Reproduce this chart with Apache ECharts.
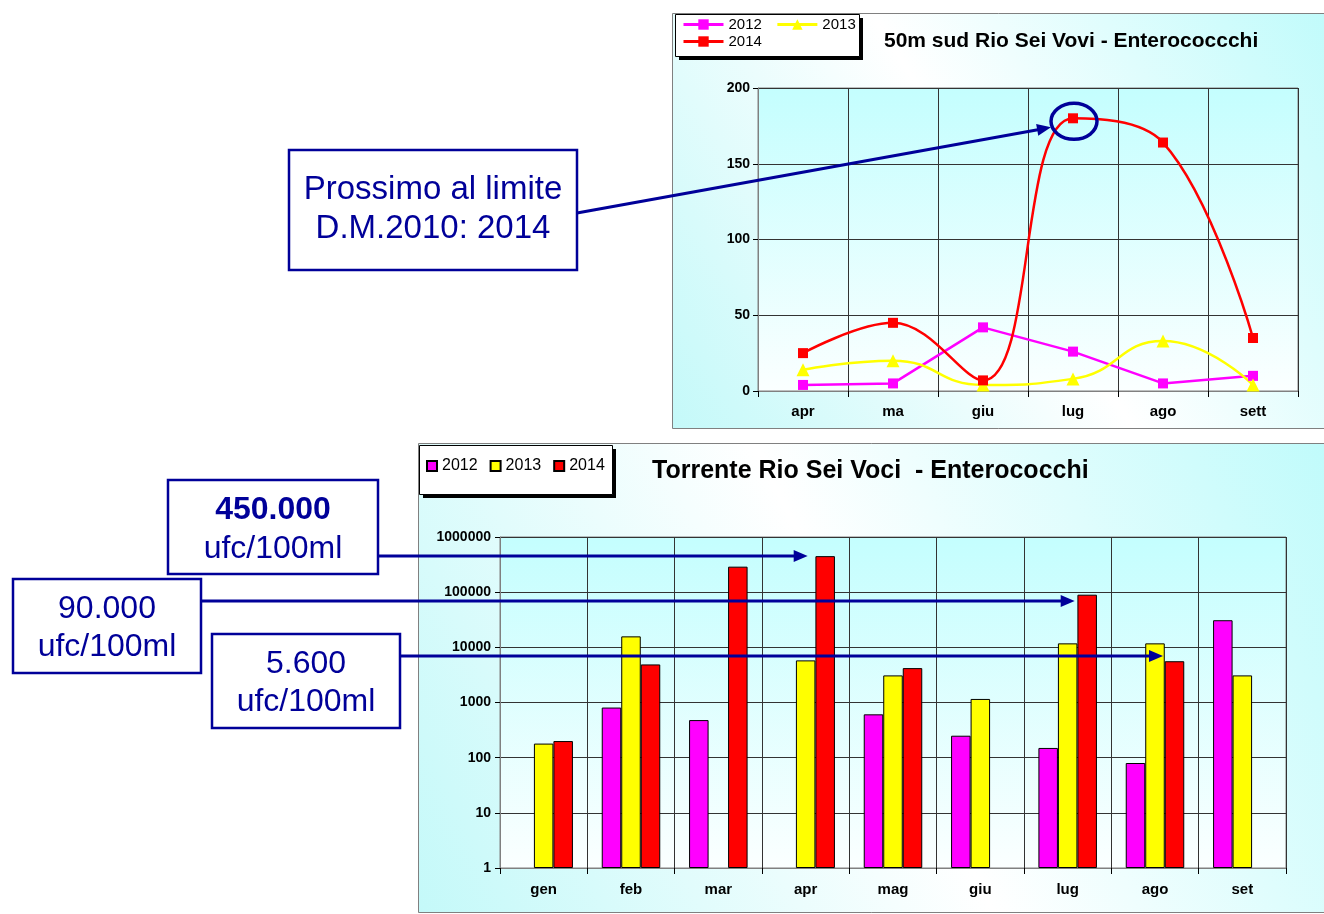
<!DOCTYPE html>
<html>
<head>
<meta charset="utf-8">
<script src="https://cdn.jsdelivr.net/npm/echarts@6/dist/echarts.min.js"></script>
<style>
  html, body { margin: 0; padding: 0; background: #ffffff; }
  #chart { width: 1324px; height: 914px; }
</style>
</head>
<body>
<div id="chart"></div>
<script>
// Enterococchi, 50 m a sud del Rio Sei Voci (ufc/100ml)
const shoreMonths = ['apr', 'ma', 'giu', 'lug', 'ago', 'sett'];
const shore2012 = [4, 5, 42, 26, 5, 10];
const shore2013 = [14, 20, 4, 8, 33, 4];
const shore2014 = [25, 45, 7, 180, 164, 35];
const shoreTicks = [0, 50, 100, 150, 200];

// Enterococchi nel Torrente Rio Sei Voci (ufc/100ml, scala logaritmica)
const streamMonths = ['gen', 'feb', 'mar', 'apr', 'mag', 'giu', 'lug', 'ago', 'set'];
const stream2012 = [null, 810, 480, null, 610, 250, 150, 80, 31000];
const stream2013 = [180, 15800, null, 5800, 3100, 1160, 11800, 11800, 3100];
const stream2014 = [200, 4900, 290000, 450000, 4200, null, 90000, 5600, null];
const streamTicks = [1, 10, 100, 1000, 10000, 100000, 1000000];

const years = ['2012', '2013', '2014'];
const yearColors = ['#ff00ff', '#ffff00', '#ff0000'];

const NARROW = "'Liberation Sans Narrow','Liberation Sans',Arial,sans-serif";
const SANS = "'Liberation Sans',Arial,sans-serif";
const NOTE = '#000099';

const plotFill = {
  type: 'linear', x: 0, y: 0, x2: 0, y2: 1,
  colorStops: [{ offset: 0, color: '#c4fefe' }, { offset: 1, color: '#fbffff' }]
};
const panelFill = {
  type: 'linear', x: 1, y: 0, x2: 0, y2: 1,
  colorStops: [
    { offset: 0, color: '#c0fbfb' },
    { offset: 0.5, color: '#ffffff' },
    { offset: 1, color: '#c4f9f9' }
  ]
};

const axisLabelStyle = { color: '#000', fontWeight: 'bold', fontFamily: NARROW };

const chart = echarts.init(document.getElementById('chart'), null, { renderer: 'canvas' });

const option = {
  backgroundColor: 'transparent',
  animation: false,
  title: [
    {
      text: '50m sud Rio Sei Vovi - Enterococcchi',
      left: 884, top: 31, padding: 0,
      textStyle: { fontSize: 21, fontWeight: 'bold', color: '#000', fontFamily: NARROW }
    },
    {
      text: 'Torrente Rio Sei Voci  - Enterococchi',
      left: 652, top: 459, padding: 0,
      textStyle: { fontSize: 25, fontWeight: 'bold', color: '#000', fontFamily: NARROW }
    }
  ],
  legend: [
    {
      data: ['2012', '2013'], left: 682, top: 17, padding: 0,
      itemWidth: 40, itemHeight: 13, itemGap: 14,
      lineStyle: { width: 3 },
      textStyle: { fontSize: 15, color: '#000', fontFamily: SANS }
    },
    {
      data: ['2014'], left: 682, top: 34, padding: 0,
      itemWidth: 40, itemHeight: 13,
      lineStyle: { width: 3 },
      textStyle: { fontSize: 15, color: '#000', fontFamily: SANS }
    },
    {
      data: years.map(y => 'Torrente ' + y), left: 426, top: 458, padding: 0,
      icon: 'rect', itemWidth: 10, itemHeight: 10, itemGap: 12,
      formatter: name => name.slice(-4),
      textStyle: { fontSize: 16, color: '#000', fontFamily: SANS }
    }
  ],
  grid: [
    {
      left: 758, top: 88, width: 540, height: 303,
      show: true, backgroundColor: plotFill, borderColor: '#808080', borderWidth: 1
    },
    {
      left: 500, top: 537, width: 786, height: 331,
      show: true, backgroundColor: plotFill, borderColor: '#808080', borderWidth: 1
    }
  ],
  xAxis: [
    {
      type: 'category', gridIndex: 0, data: shoreMonths, boundaryGap: true,
      axisLine: { lineStyle: { color: '#808080', width: 1 } },
      axisTick: { show: true, length: 6, lineStyle: { color: '#000' } },
      splitLine: { show: true, lineStyle: { color: '#333', width: 1 } },
      axisLabel: Object.assign({ fontSize: 15, margin: 13 }, axisLabelStyle)
    },
    {
      type: 'category', gridIndex: 1, data: streamMonths, boundaryGap: true,
      axisLine: { lineStyle: { color: '#808080', width: 1 } },
      axisTick: { show: true, length: 6, lineStyle: { color: '#000' } },
      splitLine: { show: true, lineStyle: { color: '#333', width: 1 } },
      axisLabel: Object.assign({ fontSize: 15, margin: 14 }, axisLabelStyle)
    }
  ],
  yAxis: [
    {
      type: 'value', gridIndex: 0,
      min: shoreTicks[0], max: shoreTicks[shoreTicks.length - 1], interval: shoreTicks[1] - shoreTicks[0],
      axisLine: { show: true, lineStyle: { color: '#808080', width: 1 } },
      axisTick: { show: true, length: 5, lineStyle: { color: '#000' } },
      splitLine: { show: true, lineStyle: { color: '#333', width: 1 } },
      axisLabel: Object.assign({ fontSize: 14, margin: 8 }, axisLabelStyle)
    },
    {
      type: 'log', logBase: 10, gridIndex: 1,
      min: streamTicks[0], max: streamTicks[streamTicks.length - 1],
      axisLine: { show: true, lineStyle: { color: '#808080', width: 1 } },
      axisTick: { show: true, length: 5, lineStyle: { color: '#000' } },
      splitLine: { show: true, lineStyle: { color: '#333', width: 1 } },
      axisLabel: Object.assign({
        fontSize: 14, margin: 9,
        formatter: v => String(Math.round(v))
      }, axisLabelStyle)
    }
  ],
  series: [
    {
      name: '2012', type: 'line', xAxisIndex: 0, yAxisIndex: 0, data: shore2012,
      color: yearColors[0], symbol: 'rect', symbolSize: 10, smooth: false,
      lineStyle: { width: 2.5 }, itemStyle: { borderWidth: 0 }
    },
    {
      name: '2013', type: 'line', xAxisIndex: 0, yAxisIndex: 0, data: shore2013,
      color: yearColors[1], symbol: 'triangle', symbolSize: 13, smooth: true,
      lineStyle: { width: 2.5 }, itemStyle: { borderWidth: 0 }
    },
    {
      name: '2014', type: 'line', xAxisIndex: 0, yAxisIndex: 0, data: shore2014,
      color: yearColors[2], symbol: 'rect', symbolSize: 10, smooth: 0.4,
      lineStyle: { width: 2.5 }, itemStyle: { borderWidth: 0 }
    }
  ].concat([stream2012, stream2013, stream2014].map((values, i) => ({
    name: 'Torrente ' + years[i], type: 'bar', xAxisIndex: 1, yAxisIndex: 1, data: values,
    barGap: '0%', barCategoryGap: '33%',
    itemStyle: { color: yearColors[i], borderColor: '#000', borderWidth: 1 }
  })))
};

chart.setOption(option);

// Callout helpers
function arrow(x1, y1, x2, y2) {
  const ang = Math.atan2(y2 - y1, x2 - x1);
  const len = 14, half = 6;
  const bx = x2 - len * Math.cos(ang), by = y2 - len * Math.sin(ang);
  const nx = -Math.sin(ang) * half, ny = Math.cos(ang) * half;
  return [
    { type: 'line', z: 100, shape: { x1: x1, y1: y1, x2: bx + 2 * Math.cos(ang), y2: by + 2 * Math.sin(ang) },
      style: { stroke: NOTE, lineWidth: 3 } },
    { type: 'polygon', z: 100, shape: { points: [[x2, y2], [bx + nx, by + ny], [bx - nx, by - ny]] },
      style: { fill: NOTE } }
  ];
}
function noteBox(x, y, w, h, lines) {
  const els = [{ type: 'rect', z: 100, shape: { x: x, y: y, width: w, height: h },
    style: { fill: '#ffffff', stroke: NOTE, lineWidth: 2.5 } }];
  lines.forEach(l => els.push({
    type: 'text', z: 101,
    style: { text: l.text, x: x + w / 2, y: l.y, align: 'center', verticalAlign: 'middle',
      font: (l.bold ? 'bold ' : '') + l.size + 'px ' + SANS, fill: NOTE }
  }));
  return els;
}

const peak = chart.convertToPixel({ gridIndex: 0 }, [3, shore2014[3]]);
const ringX = peak[0] + 1, ringY = peak[1] + 3;
const aprX = chart.convertToPixel({ gridIndex: 1 }, [3, 1])[0];
const lugX = chart.convertToPixel({ gridIndex: 1 }, [6, 1])[0];
const agoX = chart.convertToPixel({ gridIndex: 1 }, [7, 1])[0];

let graphics = [
  // panels
  { type: 'rect', z: -10, shape: { x: 672.5, y: 13.5, width: 660, height: 415 },
    style: { fill: panelFill, stroke: '#808080', lineWidth: 1 } },
  { type: 'rect', z: -10, shape: { x: 418.5, y: 443.5, width: 910, height: 469 },
    style: { fill: panelFill, stroke: '#808080', lineWidth: 1 } },
  // legend frames with drop shadow
  { type: 'rect', z: -6, shape: { x: 679, y: 18, width: 184, height: 42 }, style: { fill: '#000' } },
  { type: 'rect', z: -5, shape: { x: 675.5, y: 14.5, width: 184, height: 42 },
    style: { fill: '#ffffff', stroke: '#000', lineWidth: 1 } },
  { type: 'rect', z: -6, shape: { x: 423, y: 449, width: 193, height: 49 }, style: { fill: '#000' } },
  { type: 'rect', z: -5, shape: { x: 419.5, y: 445.5, width: 193, height: 49 },
    style: { fill: '#ffffff', stroke: '#000', lineWidth: 1 } },
  // ring around the July 2014 value
  { type: 'ellipse', z: 100, shape: { cx: ringX, cy: ringY, rx: 23, ry: 18 },
    style: { fill: null, stroke: NOTE, lineWidth: 3.5 } }
];
graphics = graphics
  .concat(arrow(577, 213, ringX - 23, ringY + 6))
  .concat(noteBox(289, 150, 288, 120, [
    { text: 'Prossimo al limite', y: 190, size: 33 },
    { text: 'D.M.2010: 2014', y: 229, size: 33 }
  ]))
  .concat(arrow(378, 556, aprX + 2, 556))
  .concat(arrow(201, 601, lugX + 7, 601))
  .concat(arrow(400, 656, agoX + 8, 656))
  .concat(noteBox(168, 480, 210, 94, [
    { text: '450.000', y: 510, size: 32, bold: true },
    { text: 'ufc/100ml', y: 549, size: 32 }
  ]))
  .concat(noteBox(13, 579, 188, 94, [
    { text: '90.000', y: 609, size: 32 },
    { text: 'ufc/100ml', y: 647, size: 32 }
  ]))
  .concat(noteBox(212, 634, 188, 94, [
    { text: '5.600', y: 664, size: 32 },
    { text: 'ufc/100ml', y: 702, size: 32 }
  ]));

chart.setOption({ graphic: graphics });
</script>
</body>
</html>
